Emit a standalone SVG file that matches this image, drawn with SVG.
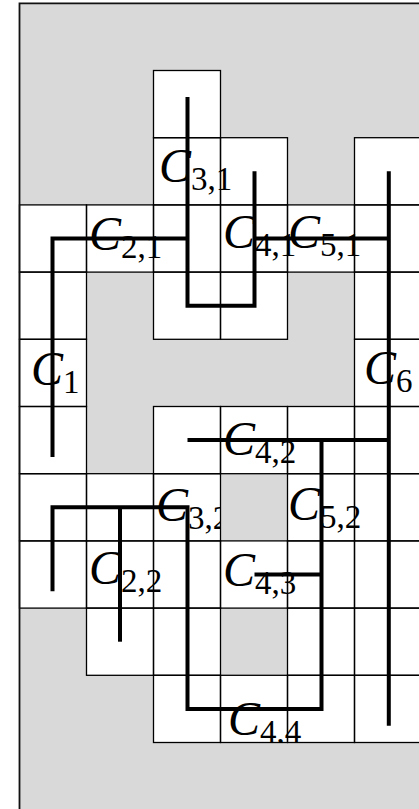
<svg xmlns="http://www.w3.org/2000/svg" width="419" height="809" viewBox="0 0 419 809">
<style>
.lbl{font-family:"Liberation Serif","Times New Roman",serif;font-size:48px;fill:#000}
.it{font-style:italic}
.sub{font-size:33px}
.gray{fill:#d9d9d9;stroke:none}
.cell{fill:none;stroke:#000;stroke-width:1.3}
.frame{fill:none;stroke:#111;stroke-width:1.8}
.thick{fill:none;stroke:#000;stroke-width:4;stroke-linecap:butt;stroke-linejoin:miter}
</style>
<rect x="0" y="0" width="419" height="809" fill="#fff"/>
<g id="labels">
<g id="C31"><text class="lbl" x="159" y="182"><tspan class="it">C</tspan><tspan class="sub" dy="8">3,1</tspan></text></g>
<g id="C21"><text class="lbl" x="89" y="250"><tspan class="it">C</tspan><tspan class="sub" dy="8">2,1</tspan></text></g>
<g id="C41"><text class="lbl" x="223" y="248"><tspan class="it">C</tspan><tspan class="sub" dy="8">4,1</tspan></text></g>
<g id="C51"><text class="lbl" x="288" y="248"><tspan class="it">C</tspan><tspan class="sub" dy="8">5,1</tspan></text></g>
<g id="C1"><text class="lbl" x="31" y="385"><tspan class="it">C</tspan><tspan class="sub" dy="8">1</tspan></text></g>
<g id="C6"><text class="lbl" x="364" y="384"><tspan class="it">C</tspan><tspan class="sub" dy="8">6</tspan></text></g>
<g id="C42"><text class="lbl" x="223" y="455"><tspan class="it">C</tspan><tspan class="sub" dy="8">4,2</tspan></text></g>
<g id="C52"><text class="lbl" x="288" y="520"><tspan class="it">C</tspan><tspan class="sub" dy="8">5,2</tspan></text></g>
<g id="C32"><text class="lbl" x="156" y="521"><tspan class="it">C</tspan><tspan class="sub" dy="8">3,2</tspan></text></g>
<g id="C22"><text class="lbl" x="89" y="584"><tspan class="it">C</tspan><tspan class="sub" dy="8">2,2</tspan></text></g>
<g id="C43"><text class="lbl" x="223" y="586"><tspan class="it">C</tspan><tspan class="sub" dy="8">4,3</tspan></text></g>
<g id="C44"><text class="lbl" x="228" y="735"><tspan class="it">C</tspan><tspan class="sub" dy="8">4,4</tspan></text></g>
</g>
<g id="obstacles">
<path class="gray" d="M19.5,3.3 H425 V137.7 H354.5 V204.9 H287.5 V137.7 H220.5 V70.5 H153.5 V204.9 H19.5 Z
M86.5,272.1 H153.5 V339.3 H287.5 V272.1 H354.5 V406.5 H153.5 V473.7 H86.5 Z
M220.5,473.7 H287.5 V540.9 H220.5 Z
M220.5,608.1 H287.5 V675.3 H220.5 Z
M19.5,608.1 H86.5 V675.3 H153.5 V742.5 H425 V815 H19.5 Z"/>
</g>
<g id="grid">
<rect class="cell" x="153.5" y="70.5" width="67" height="67.2"/>
<rect class="cell" x="153.5" y="137.7" width="67" height="67.2"/>
<rect class="cell" x="220.5" y="137.7" width="67" height="67.2"/>
<rect class="cell" x="354.5" y="137.7" width="67" height="67.2"/>
<rect class="cell" x="19.5" y="204.9" width="67" height="67.2"/>
<rect class="cell" x="86.5" y="204.9" width="67" height="67.2"/>
<rect class="cell" x="153.5" y="204.9" width="67" height="67.2"/>
<rect class="cell" x="220.5" y="204.9" width="67" height="67.2"/>
<rect class="cell" x="287.5" y="204.9" width="67" height="67.2"/>
<rect class="cell" x="354.5" y="204.9" width="67" height="67.2"/>
<rect class="cell" x="19.5" y="272.1" width="67" height="67.2"/>
<rect class="cell" x="153.5" y="272.1" width="67" height="67.2"/>
<rect class="cell" x="220.5" y="272.1" width="67" height="67.2"/>
<rect class="cell" x="354.5" y="272.1" width="67" height="67.2"/>
<rect class="cell" x="19.5" y="339.3" width="67" height="67.2"/>
<rect class="cell" x="354.5" y="339.3" width="67" height="67.2"/>
<rect class="cell" x="19.5" y="406.5" width="67" height="67.2"/>
<rect class="cell" x="153.5" y="406.5" width="67" height="67.2"/>
<rect class="cell" x="220.5" y="406.5" width="67" height="67.2"/>
<rect class="cell" x="287.5" y="406.5" width="67" height="67.2"/>
<rect class="cell" x="354.5" y="406.5" width="67" height="67.2"/>
<rect class="cell" x="19.5" y="473.7" width="67" height="67.2"/>
<rect class="cell" x="86.5" y="473.7" width="67" height="67.2"/>
<rect class="cell" x="153.5" y="473.7" width="67" height="67.2"/>
<rect class="cell" x="287.5" y="473.7" width="67" height="67.2"/>
<rect class="cell" x="354.5" y="473.7" width="67" height="67.2"/>
<rect class="cell" x="19.5" y="540.9" width="67" height="67.2"/>
<rect class="cell" x="86.5" y="540.9" width="67" height="67.2"/>
<rect class="cell" x="153.5" y="540.9" width="67" height="67.2"/>
<rect class="cell" x="220.5" y="540.9" width="67" height="67.2"/>
<rect class="cell" x="287.5" y="540.9" width="67" height="67.2"/>
<rect class="cell" x="354.5" y="540.9" width="67" height="67.2"/>
<rect class="cell" x="86.5" y="608.1" width="67" height="67.2"/>
<rect class="cell" x="153.5" y="608.1" width="67" height="67.2"/>
<rect class="cell" x="287.5" y="608.1" width="67" height="67.2"/>
<rect class="cell" x="354.5" y="608.1" width="67" height="67.2"/>
<rect class="cell" x="153.5" y="675.3" width="67" height="67.2"/>
<rect class="cell" x="220.5" y="675.3" width="67" height="67.2"/>
<rect class="cell" x="287.5" y="675.3" width="67" height="67.2"/>
<rect class="cell" x="354.5" y="675.3" width="67" height="67.2"/>
<path class="frame" d="M19.5,815 V3.3 H425"/>
</g>
<g id="connectors">
<path class="thick" d="M52.5,457 V238.5 H187.5"/>
<path class="thick" d="M187.5,97 V305.7 H254.5 V171.3"/>
<path class="thick" d="M254.5,238.5 H388.8"/>
<path class="thick" d="M388.8,171.3 V725.7"/>
<path class="thick" d="M187.5,440.1 H388.8"/>
<path class="thick" d="M321.5,440.1 V708.9 H187.5 V507.3 H52.5 V591.3"/>
<path class="thick" d="M120,507.3 V641.7"/>
<path class="thick" d="M254.5,574.5 H321.5"/>
</g>
</svg>
